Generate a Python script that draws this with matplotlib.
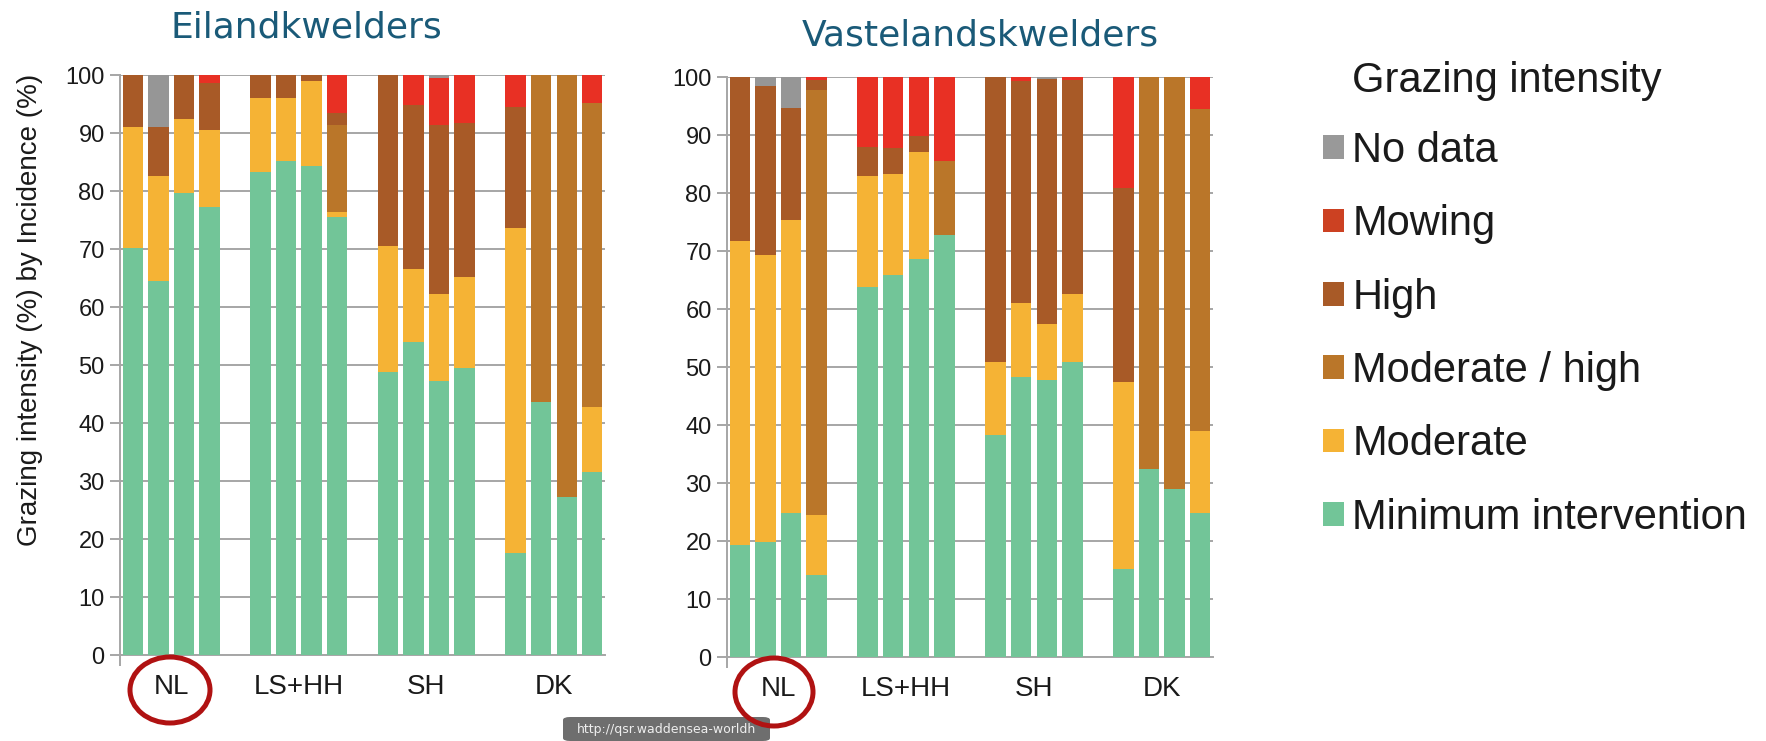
import matplotlib
matplotlib.use("Agg")
import matplotlib.pyplot as plt
from matplotlib.patches import Patch, Ellipse, FancyBboxPatch
import numpy as np

# ---------------- data ----------------
groups = ["NL", "LS+HH", "SH", "DK"]
series = ["Minimum intervention", "Moderate", "Moderate / high", "High", "Mowing", "No data"]

eiland_min      = [70.1, 64.4, 79.7, 77.2, 83.2, 85.2, 84.3, 75.6, 48.8, 54.0, 47.2, 49.4, 17.6, 43.7, 27.3, 31.6]
eiland_mod      = [21.0, 18.2, 12.7, 13.3, 12.9, 10.8, 14.6, 0.8, 21.8, 12.5, 15.0, 15.7, 56.0, 0.0, 0.0, 11.2]
eiland_modhigh  = [0.0, 0.0, 0.0, 0.0, 0.0, 0.0, 0.0, 15.0, 0.0, 0.0, 0.0, 0.0, 0.0, 56.3, 72.7, 52.3]
eiland_high     = [8.9, 8.5, 7.6, 8.2, 3.9, 4.0, 1.1, 2.1, 29.4, 28.3, 29.1, 26.6, 20.8, 0.0, 0.0, 0.0]
eiland_mowing   = [0.0, 0.0, 0.0, 1.3, 0.0, 0.0, 0.0, 6.5, 0.0, 5.2, 8.1, 8.3, 5.6, 0.0, 0.0, 4.9]
eiland_nodata   = [0.0, 8.9, 0.0, 0.0, 0.0, 0.0, 0.0, 0.0, 0.0, 0.0, 0.6, 0.0, 0.0, 0.0, 0.0, 0.0]

vaste_min       = [19.3, 19.8, 24.8, 14.1, 63.8, 65.9, 68.7, 72.7, 38.2, 48.2, 47.7, 50.9, 15.1, 32.4, 29.0, 24.9]
vaste_mod       = [52.5, 49.5, 50.6, 10.4, 19.1, 17.3, 18.3, 0.0, 12.7, 12.9, 9.8, 11.7, 32.3, 0.0, 0.0, 14.0]
vaste_modhigh   = [0.0, 0.0, 0.0, 73.3, 0.0, 0.0, 0.0, 12.8, 0.0, 0.0, 0.0, 0.0, 0.0, 67.6, 71.0, 55.5]
vaste_high      = [28.2, 29.1, 19.3, 1.7, 5.0, 4.6, 2.9, 0.0, 49.1, 38.2, 42.1, 36.8, 33.5, 0.0, 0.0, 0.0]
vaste_mowing    = [0.0, 0.0, 0.0, 0.5, 12.1, 12.2, 10.1, 14.5, 0.0, 0.7, 0.0, 0.6, 19.1, 0.0, 0.0, 5.6]
vaste_nodata    = [0.0, 1.6, 5.3, 0.0, 0.0, 0.0, 0.0, 0.0, 0.0, 0.0, 0.4, 0.0, 0.0, 0.0, 0.0, 0.0]

yticks = [0, 10, 20, 30, 40, 50, 60, 70, 80, 90, 100]
titles = ["Eilandkwelders", "Vastelandskwelders"]
ylabel = "Grazing intensity (%) by Incidence (%)"
legend_title = "Grazing intensity"
url_text = "http://qsr.waddensea-worldh"

# ---------------- styling ----------------
bar_colors = ["#72C598", "#F5B335", "#BA7629", "#A85A27", "#E83024", "#969696"]
legend_colors = ["#72C598", "#F5B335", "#BA7629", "#A85A27", "#CC4122", "#999999"]
grid_c = "#A6A6A6"
txt_c = "#1a1a1a"
title_c = "#1a5a78"
SANS = ["Liberation Sans", "DejaVu Sans"]

W, H = 1766, 741
fig = plt.figure(figsize=(W / 100, H / 100), dpi=100)
fig.patch.set_facecolor("white")

def px_axes(x0, x1, ytop, ybot):
    return fig.add_axes([x0 / W, 1 - ybot / H, (x1 - x0) / W, (ybot - ytop) / H])

ax1 = px_axes(120, 605, 75, 655)
ax2 = px_axes(727, 1213, 77, 657)

# x slots: 4 bars per group, one empty slot between groups
xpos = []
for g in range(len(groups)):
    xpos += [g * 5 + k for k in range(4)]
xpos = np.array(xpos, dtype=float)
group_centers = [g * 5 + 1.5 for g in range(len(groups))]

panels = [
    (ax1, [eiland_min, eiland_mod, eiland_modhigh, eiland_high, eiland_mowing, eiland_nodata]),
    (ax2, [vaste_min, vaste_mod, vaste_modhigh, vaste_high, vaste_mowing, vaste_nodata]),
]

for ax, stack in panels:
    bottom = np.zeros(len(xpos))
    for vals, col, name in zip(stack, bar_colors, series):
        v = np.array(vals)
        ax.bar(xpos, v, bottom=bottom, width=0.8, color=col, edgecolor="none",
               label=name, zorder=3)
        bottom += v
    ax.set_xlim(-0.5, 18.5)
    ax.set_ylim(0, 100)
    ax.set_yticks(yticks)
    ax.set_yticklabels([str(t) for t in yticks], fontsize=17, family=SANS, color=txt_c)
    ax.yaxis.grid(True, color=grid_c, linewidth=1.4, zorder=0)
    ax.set_axisbelow(True)
    for s in ["top", "right"]:
        ax.spines[s].set_visible(False)
    for s in ["left", "bottom"]:
        ax.spines[s].set_color(grid_c)
        ax.spines[s].set_linewidth(1.4)
    ax.tick_params(axis="y", length=7, width=1.4, color=grid_c, pad=4)
    ax.set_xticks(group_centers)
    ax.set_xticklabels(groups, fontsize=20, family=SANS, color=txt_c)
    ax.tick_params(axis="x", which="major", length=0, pad=14)
    ax.set_xticks([-0.5], minor=True)
    ax.tick_params(axis="x", which="minor", length=8, width=1.4, color=grid_c)

# titles
fig.text(306 / W, 1 - 27 / H, titles[0], fontsize=26, family="DejaVu Sans",
         color=title_c, ha="center", va="center")
fig.text(980 / W, 1 - 35 / H, titles[1], fontsize=26, family="DejaVu Sans",
         color=title_c, ha="center", va="center")

# y label
fig.text(30 / W, 1 - 310 / H, ylabel, rotation=90, fontsize=20, family=SANS,
         color=txt_c, ha="center", va="center")

# legend (top entry = No data)
handles = [Patch(facecolor=c, edgecolor="none", label=n)
           for c, n in zip(legend_colors, series)][::-1]
fig.legend(handles=handles, loc="upper left",
           bbox_to_anchor=(1323 / W, 1 - 131 / H), frameon=False,
           prop={"family": SANS, "size": 30}, handlelength=0.5, handleheight=0.5,
           handletextpad=0.2, labelspacing=0.8, borderpad=0, borderaxespad=0,
           labelcolor=txt_c)
fig.text(1352 / W, 1 - 81 / H, legend_title, fontsize=30, family=SANS,
         color=txt_c, ha="left", va="center")

# tooltip box
fig.add_artist(FancyBboxPatch((563 / W, 0), 207 / W, 24 / H,
                              boxstyle="round,pad=0,rounding_size=0.004",
                              transform=fig.transFigure, facecolor="#6e6e6e",
                              edgecolor="none", zorder=5))
fig.text(666 / W, 1 - 730 / H, url_text, fontsize=9, family="DejaVu Sans",
         color="#eeeeee", ha="center", va="center", zorder=6)

# red ellipses around NL
for cx, cy, w, h in [(170, 690, 80, 66), (774, 692, 78, 68)]:
    fig.add_artist(Ellipse((cx / W, 1 - cy / H), w / W, h / H,
                           transform=fig.transFigure, fill=False,
                           edgecolor="#B01212", linewidth=3.6, zorder=7))

fig.savefig("out.png", dpi=100, facecolor="white")
